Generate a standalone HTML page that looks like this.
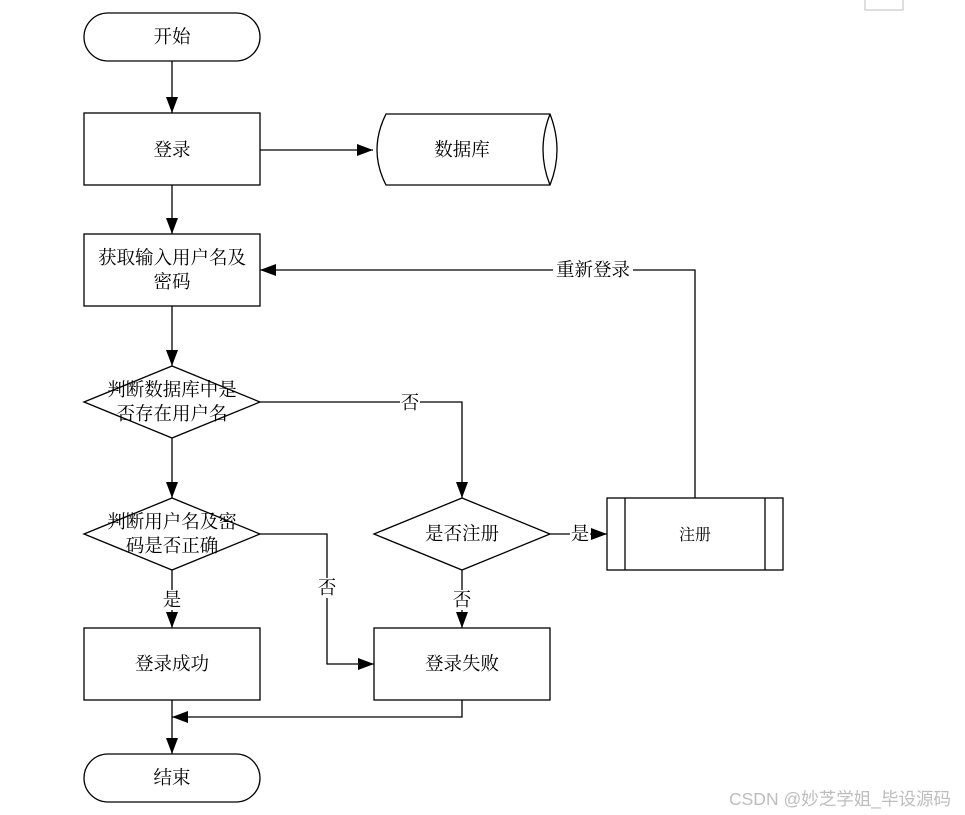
<!DOCTYPE html>
<html><head><meta charset="utf-8"><style>
html,body{margin:0;padding:0;background:#fff;}
svg{display:block;}
text{font-family:"Liberation Serif","Noto Serif CJK SC",serif;font-size:18.5px;fill:#000;}
</style></head><body>
<svg width="965" height="815" viewBox="0 0 965 815" xmlns="http://www.w3.org/2000/svg">
<defs><marker id="a" markerWidth="16" markerHeight="12" refX="16" refY="6" orient="auto" markerUnits="userSpaceOnUse"><path d="M0,0 L16,6 L0,12 Z" fill="#000"/></marker></defs>
<g stroke="#000" stroke-width="1.3" fill="#fff">
<path d="M865,0 V10 H903 V0" stroke="#ccc"/>
<rect x="84" y="13" width="176" height="48" rx="24"/>
<rect x="84" y="113" width="176" height="72"/>
<path d="M386,114 H550 Q564,150 550,185 H386 Q368,150 386,114 Z"/>
<path d="M550,114 Q536,150 550,185"/>
<rect x="84" y="234" width="176" height="72"/>
<path d="M84,402 L172,366 L260,402 L172,438 Z"/>
<path d="M84,534 L172,498 L260,534 L172,570 Z"/>
<path d="M374,534 L462,498 L550,534 L462,570 Z"/>
<rect x="607" y="498" width="176" height="72"/>
<path d="M625,498 V570 M765,498 V570" fill="none"/>
<rect x="84" y="628" width="176" height="72"/>
<rect x="374" y="628" width="176" height="72"/>
<rect x="84" y="754" width="176" height="48" rx="24"/>
<g fill="none" marker-end="url(#a)">
<path d="M172,61 V113"/>
<path d="M260,150 H373"/>
<path d="M172,185 V234"/>
<path d="M172,306 V366"/>
<path d="M260,402 H462 V498"/>
<path d="M172,438 V498"/>
<path d="M550,534 H607"/>
<path d="M695,498 V270 H260"/>
<path d="M260,534 H327 V664 H374"/>
<path d="M172,570 V628"/>
<path d="M462,570 V628"/>
<path d="M462,700 V717 H172"/>
<path d="M172,700 V754"/>
</g>
</g>
<g text-anchor="middle">
<text x="172" y="43">开始</text>
<text x="172" y="156">登录</text>
<text x="462" y="156">数据库</text>
<text x="172" y="264">获取输入用户名及</text>
<text x="172" y="288">密码</text>
<text x="172" y="396">判断数据库中是</text>
<text x="172" y="420">否存在用户名</text>
<text x="172" y="528">判断用户名及密</text>
<text x="172" y="552">码是否正确</text>
<text x="462" y="540">是否注册</text>
<text x="695" y="540" style="font-size:16px">注册</text>
<text x="172" y="670">登录成功</text>
<text x="462" y="670">登录失败</text>
<text x="172" y="784">结束</text>
<rect x="553" y="260" width="80" height="20" fill="#fff"/>
<text x="593" y="276">重新登录</text>
<rect x="400" y="393" width="20" height="20" fill="#fff"/>
<text x="410" y="409">否</text>
<rect x="570" y="524" width="20" height="20" fill="#fff"/>
<text x="580" y="540">是</text>
<rect x="317" y="578" width="20" height="20" fill="#fff"/>
<text x="327" y="594">否</text>
<rect x="162" y="590" width="20" height="20" fill="#fff"/>
<text x="172" y="606">是</text>
<rect x="452" y="590" width="20" height="20" fill="#fff"/>
<text x="462" y="606">否</text>
</g>
<text x="729" y="805" style="font-family:'Liberation Sans','Noto Sans CJK SC',sans-serif;font-size:17.5px;fill:#bdbdbd">CSDN @妙芝学姐_毕设源码</text>
</svg>
</body></html>
